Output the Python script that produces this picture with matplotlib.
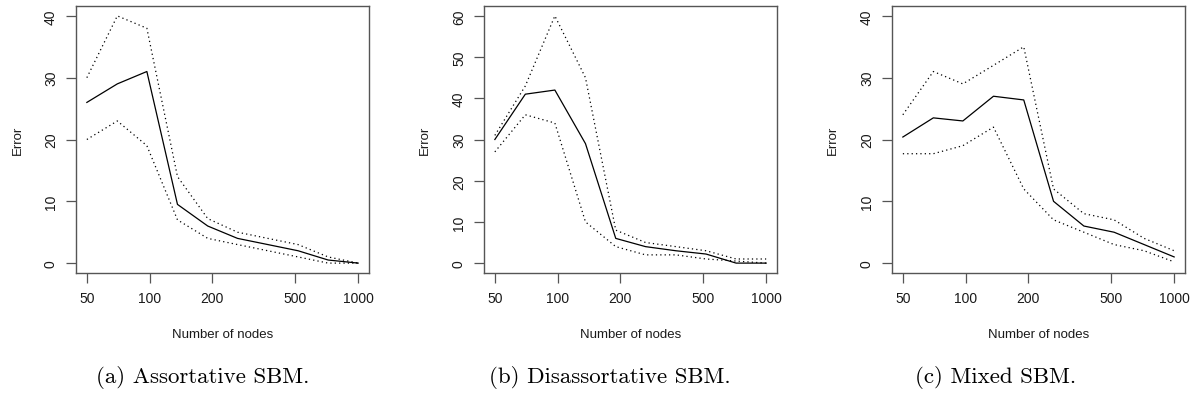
import math
import matplotlib
matplotlib.use('Agg')
import matplotlib.pyplot as plt
import matplotlib.ticker as mticker

# Number of nodes (log spaced, 50 -> 1000)
nodes = [50, 70, 97, 136, 190, 264, 369, 515, 718, 1000]
xticks = [50, 100, 200, 500, 1000]

# (a) Assortative SBM
assort_mean = [26, 29, 31, 9.5, 6, 4, 3, 2, 0.5, 0]
assort_up = [30, 40, 38, 14, 7.2, 5, 4, 3, 1, 0]
assort_lo = [20, 23, 19, 7, 4, 3, 2, 1, 0, 0]

# (b) Disassortative SBM
disassort_mean = [30, 41, 42, 29, 6, 4, 3, 2.2, 0, 0]
disassort_up = [31, 43, 60, 45, 8, 5, 4, 3, 1, 1]
disassort_lo = [27, 36, 34, 10, 4, 2, 2, 1, 0.5, 0]

# (c) Mixed SBM
mixed_mean = [20.4, 23.5, 23, 27, 26.4, 10, 6, 5, 3, 1]
mixed_up = [24, 31, 29, 32, 35, 12, 8, 7, 4, 2]
mixed_lo = [17.7, 17.7, 19, 22, 12, 7, 5, 3, 2, 0.2]

panels = [
    (assort_mean, assort_up, assort_lo, 40, [0, 10, 20, 30, 40], '(a) Assortative SBM.'),
    (disassort_mean, disassort_up, disassort_lo, 60, [0, 10, 20, 30, 40, 50, 60], '(b) Disassortative SBM.'),
    (mixed_mean, mixed_up, mixed_lo, 40, [0, 10, 20, 30, 40], '(c) Mixed SBM.'),
]

W, H = 1194, 402
fig = plt.figure(figsize=(W / 100, H / 100), dpi=100)
fig.patch.set_facecolor('white')

lefts = [76, 484, 892]
box_w, box_top, box_bot = 293, 7, 274
caption_x = [203, 610, 996]
ylabel_x = [18, 425, 833]

AX_COL = '#555555'
TXT_COL = '#1a1a1a'
FONT = 'Liberation Sans'

for i, (mean, up, lo, ymax, yticks, cap) in enumerate(panels):
    ax = fig.add_axes([lefts[i] / W, 1 - box_bot / H, box_w / W, (box_bot - box_top) / H])
    ax.plot(nodes, mean, color='black', lw=0.9)
    ax.plot(nodes, up, color='black', lw=0.9, linestyle=(0, (1, 2.5)))
    ax.plot(nodes, lo, color='black', lw=0.9, linestyle=(0, (1, 2.5)))

    # R-style 4% padding on both axes
    ax.set_xscale('log')
    span = math.log10(1000) - math.log10(50)
    pad = 10 ** (0.04 * span)
    ax.set_xlim(50 / pad, 1000 * pad)
    ax.set_ylim(-0.04 * ymax, ymax * 1.04)

    ax.set_xticks(xticks)
    ax.xaxis.set_major_formatter(mticker.FixedFormatter([str(t) for t in xticks]))
    ax.xaxis.set_minor_locator(mticker.NullLocator())
    ax.set_yticks(yticks)

    for s in ax.spines.values():
        s.set_color(AX_COL)
        s.set_linewidth(1.0)
    ax.tick_params(axis='both', direction='out', length=7, width=0.9, color=AX_COL,
                   labelsize=10, labelcolor=TXT_COL, pad=6)
    for lab in ax.get_yticklabels():
        lab.set_rotation(90)
        lab.set_va('center')
        lab.set_fontfamily(FONT)
    for lab in ax.get_xticklabels():
        lab.set_fontfamily(FONT)

    fig.text((lefts[i] + box_w / 2) / W, 1 - 335 / H, 'Number of nodes',
             ha='center', va='center', fontsize=9.5, family=FONT, color=TXT_COL)
    fig.text(ylabel_x[i] / W, 1 - 140 / H, 'Error', rotation=90,
             ha='center', va='center', fontsize=9.5, family=FONT, color=TXT_COL)
    fig.text(caption_x[i] / W, 1 - 378 / H, cap, ha='center', va='center',
             fontsize=16.5, family='cmr10', color='black')

fig.savefig('out.png', dpi=100, facecolor='white')
plt.close(fig)
